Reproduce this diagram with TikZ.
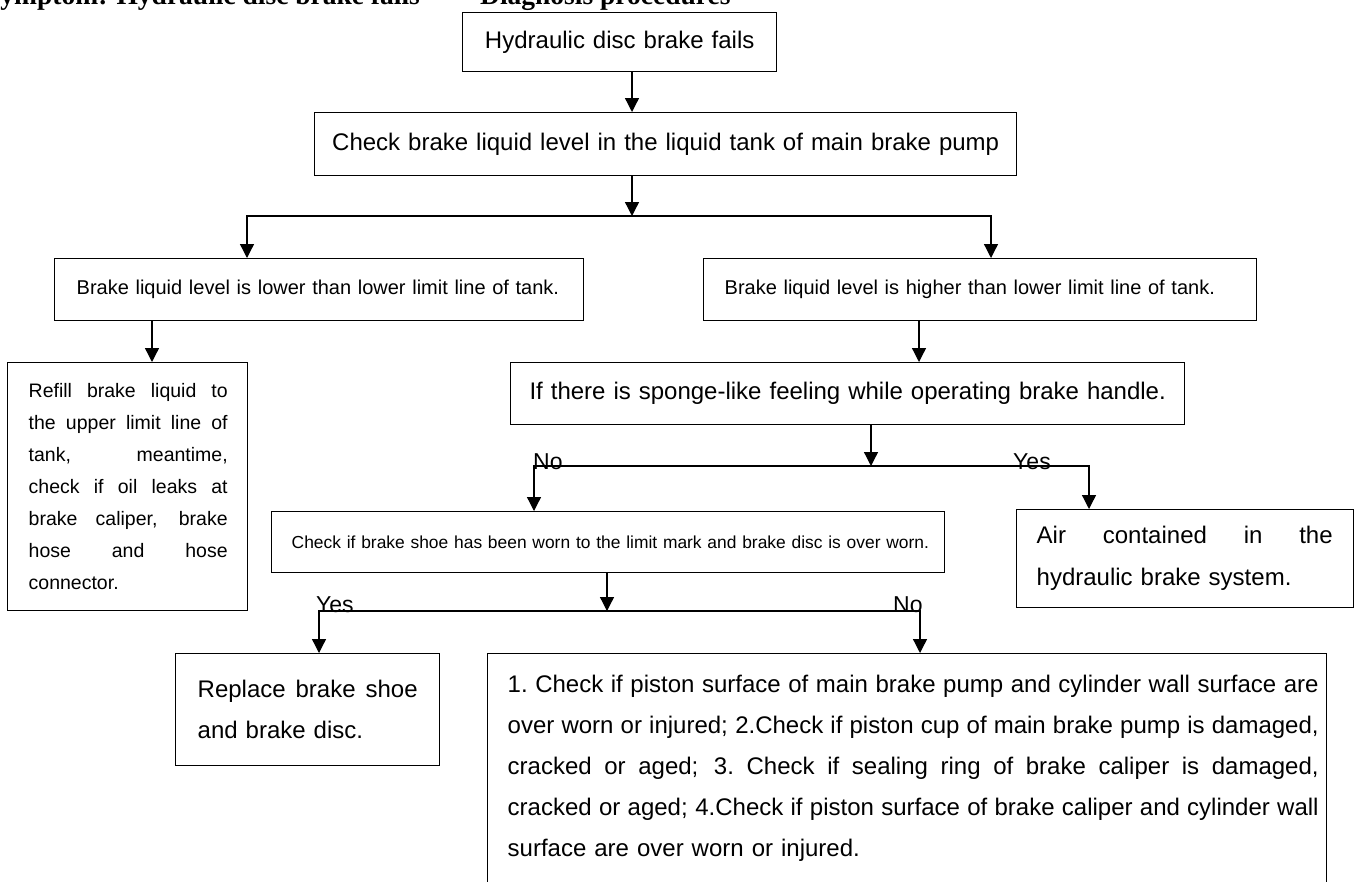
\documentclass[tikz,border=0pt]{standalone}
\usepackage{fontspec}
\setmainfont{Liberation Sans}
\newfontfamily\titlefont{Liberation Serif}
\usetikzlibrary{arrows.meta}
\newcommand{\jline}[2]{\makebox[#1][s]{\spaceskip=0.278em plus 1fil minus 0.05em\xspaceskip=\spaceskip #2}}
\tikzset{
  box/.style={draw, line width=1.4pt, inner ysep=0pt, anchor=north west, align=left},
  arr/.style={line width=1.3pt, -{Triangle[length=14pt,width=14pt]}},
  lbl/.style={inner sep=0pt, anchor=base west, font=\fontsize{23}{23}\selectfont},
  ttl/.style={inner sep=0pt, anchor=base west, font=\titlefont\bfseries\fontsize{27.5}{30}\selectfont},
  f24/.style={font=\fontsize{24}{41}\selectfont},
  f20/.style={font=\fontsize{20}{24}\selectfont},
}
\begin{document}
\begin{tikzpicture}[x=1pt,y=1pt]
\useasboundingbox (0,0) rectangle (1359,-881);
\clip (0,0) rectangle (1359,-881);
\fill[white] (0,0) rectangle (1359,-881);

\node[ttl] (t1) at (-15,-4.5) {Symptom: Hydraulic disc brake fails};
\node[ttl] (t2) at (480,-4.5) {Diagnosis procedures};

\node[box, f24, align=center, minimum width=314, minimum height=59, inner xsep=10, text width=294] (b1) at (462,-12) {Hydraulic disc brake fails};
\node[box, f24, align=center, minimum width=702, minimum height=63, inner xsep=11, text width=680] (b2) at (314,-112) {Check brake liquid level in the liquid tank of main brake pump};
\node[box, f20, minimum width=529, minimum height=62, inner xsep=22, text width=485] (low) at (54,-258) {Brake liquid level is lower than lower limit line of tank.};
\node[box, f20, minimum width=553, minimum height=62, inner xsep=21, text width=511] (high) at (703,-258) {Brake liquid level is higher than lower limit line of tank.};
\node[box, font=\fontsize{19.5}{32}\selectfont, minimum width=240, minimum height=248, inner xsep=21, text width=198] (refill) at (7,-362) {\jline{199pt}{Refill brake liquid to}\\\jline{199pt}{the upper limit line of}\\\jline{199pt}{tank, meantime,}\\\jline{199pt}{check if oil leaks at}\\\jline{199pt}{brake caliper, brake}\\\jline{199pt}{hose and hose}\\connector.};
\node[box, f24, align=center, minimum width=674, minimum height=62, inner xsep=10, text width=654] (sponge) at (510,-362) {If there is sponge-like feeling while operating brake handle.};
\node[box, font=\fontsize{17.4}{20}\selectfont, minimum width=673, minimum height=61, inner xsep=20, text width=633] (chk) at (271,-511) {\makebox[633pt][l]{Check if brake shoe has been worn to the limit mark and brake disc is over worn.}};
\node[box, font=\fontsize{24}{42}\selectfont, minimum width=337, minimum height=98, inner xsep=20, text width=297] (air) at (1016,-509) {\jline{296pt}{Air contained in the}\\hydraulic brake system.};
\node[box, f24, minimum width=264, minimum height=112, inner xsep=22, text width=220] (rep) at (175,-653) {\jline{220pt}{Replace brake shoe}\\and brake disc.};
\node[box, f24, minimum width=839, minimum height=230, inner xsep=20, text width=799] (fin) at (487,-653) {\jline{811pt}{1. Check if piston surface of main brake pump and cylinder wall surface are}\\\jline{811pt}{over worn or injured; 2.Check if piston cup of main brake pump is damaged,}\\\jline{811pt}{cracked or aged; 3. Check if sealing ring of brake caliper is damaged,}\\\jline{811pt}{cracked or aged; 4.Check if piston surface of brake caliper and cylinder wall}\\surface are over worn or injured.};

\coordinate (j1) at (632,-216);
\coordinate (j2) at (871,-466);
\coordinate (j3) at (607,-611);
\coordinate (xa) at (247,0);
\coordinate (xb) at (991,0);
\coordinate (xc) at (152,0);
\coordinate (xd) at (919,0);
\coordinate (xe) at (534,0);
\coordinate (xf) at (1089,0);
\coordinate (xg) at (319,0);
\coordinate (xh) at (920,0);

\draw[arr] (b1.south -| j1) -- (b2.north -| j1);
\draw[arr] (b2.south -| j1) -- (j1);
\draw[arr] (j1) -| (low.north -| xa);
\draw[arr] (j1) -| (high.north -| xb);
\draw[arr] (low.south -| xc) -- (refill.north -| xc);
\draw[arr] (high.south -| xd) -- (sponge.north -| xd);
\draw[arr] (sponge.south -| j2) -- (j2);
\draw[arr] (j2) -| (chk.north -| xe);
\draw[arr] (j2) -| (air.north -| xf);
\draw[arr] (chk.south -| j3) -- (j3);
\draw[arr] (j3) -| (rep.north -| xg);
\draw[arr] (j3) -| (fin.north -| xh);

\node[lbl] (no1) at (533,-469) {No};
\node[lbl] (yes1) at (1013,-469) {Yes};
\node[lbl] (yes2) at (316,-612) {Yes};
\node[lbl] (no2) at (893,-612) {No};
\end{tikzpicture}
\end{document}
